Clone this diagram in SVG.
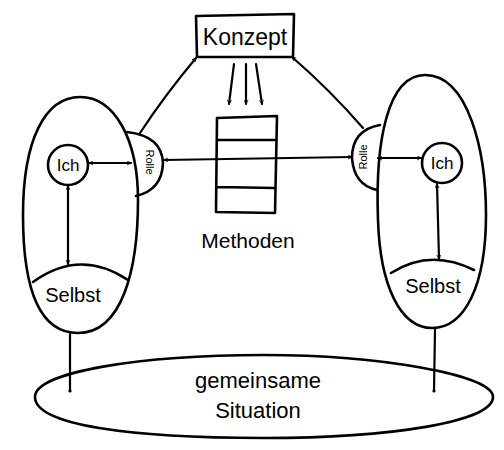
<svg xmlns="http://www.w3.org/2000/svg" width="504" height="450" viewBox="0 0 504 450">
<style>
.s{fill:none;stroke:#000;stroke-width:2.6;stroke-linecap:round;stroke-linejoin:round}
.c{fill:none;stroke:#000;stroke-width:2.2;stroke-linecap:round}
text{font-family:"Liberation Sans","DejaVu Sans",sans-serif;fill:#000;text-anchor:middle}
</style>
<defs>
<marker id="a" viewBox="0 0 10 10" refX="9" refY="5" markerWidth="5" markerHeight="5" orient="auto-start-reverse" markerUnits="userSpaceOnUse">
<path d="M1,1 L9,5 L1,9" fill="none" stroke="#000" stroke-width="1.6"/>
</marker>
</defs>
<rect width="504" height="450" fill="#fff"/>

<g id="konzept">
<path class="s" d="M196,16 L294,14 L293,57 L197,57 Z"/>
<text x="245" y="45" font-size="23">Konzept</text>
</g>

<g id="methoden">
<path class="s" d="M217,118 L277,116 L275,213 L216,212 Z M217,140 L276,140 M217,187 L275,188"/>
<text x="248" y="248" font-size="21">Methoden</text>
</g>

<g id="person-left">
<path class="s" d="M80,97 C115,97 138,140 138,200 C138,270 122,333 78,333 C35,333 23,280 23,215 C23,140 45,97 80,97 Z"/>
<path class="s" d="M33,282 Q80,248 128,280"/>
<text x="73" y="302" font-size="20">Selbst</text>
<circle class="s" cx="68" cy="165" r="20"/>
<text x="68" y="171" font-size="17">Ich</text>
</g>

<g id="rolle-left">
<path class="s" d="M127,132 Q162,136 163,163 Q162,190 136,196"/>
<text x="0" y="0" font-size="11" transform="translate(146,162) rotate(90)">Rolle</text>
</g>

<g id="person-right">
<path class="s" d="M425,75 C468,75 486,150 486,215 C486,285 465,328 432,328 C400,328 380,285 378,220 C375,140 388,75 425,75 Z"/>
<path class="s" d="M391,273 Q430,248 474,270"/>
<text x="433" y="293" font-size="20">Selbst</text>
<circle class="s" cx="442" cy="163" r="20"/>
<text x="442" y="169" font-size="17">Ich</text>
</g>

<g id="rolle-right">
<path class="s" d="M380,125 Q352,130 352,158 Q354,185 377,190"/>
<text x="0" y="0" font-size="11" transform="translate(367,157) rotate(-90)">Rolle</text>
</g>

<g id="situation">
<path class="s" d="M264,355 C380,355 493,375 493,397 C493,422 390,438 264,438 C130,438 35,425 35,397 C35,372 140,355 264,355 Z"/>
<text x="258" y="388" font-size="22">gemeinsame</text>
<text x="258" y="418" font-size="22">Situation</text>
</g>

<g id="connectors">
<path class="c" d="M140,133 Q165,95 196,58" marker-end="url(#a)"/>
<path class="c" d="M363,128 Q330,90 292,57" marker-end="url(#a)"/>
<path class="c" d="M234,64 L229,104" marker-end="url(#a)"/>
<path class="c" d="M246,64 L246,104" marker-end="url(#a)"/>
<path class="c" d="M256,64 L262,104" marker-end="url(#a)"/>
<path class="c" d="M164,160 L352,157" marker-start="url(#a)" marker-end="url(#a)"/>
<path class="c" d="M89,163 L131,163" marker-start="url(#a)" marker-end="url(#a)"/>
<path class="c" d="M378,158 L421,158" marker-start="url(#a)" marker-end="url(#a)"/>
<path class="c" d="M68,186 L68,264" marker-start="url(#a)" marker-end="url(#a)"/>
<path class="c" d="M437,184 L439,259" marker-start="url(#a)" marker-end="url(#a)"/>
<path class="c" d="M70,334 L70,391"/>
<path class="c" d="M435,329 L434,391"/>
<circle cx="70" cy="391" r="1.6"/>
<circle cx="434" cy="391" r="1.6"/>
</g>
</svg>
